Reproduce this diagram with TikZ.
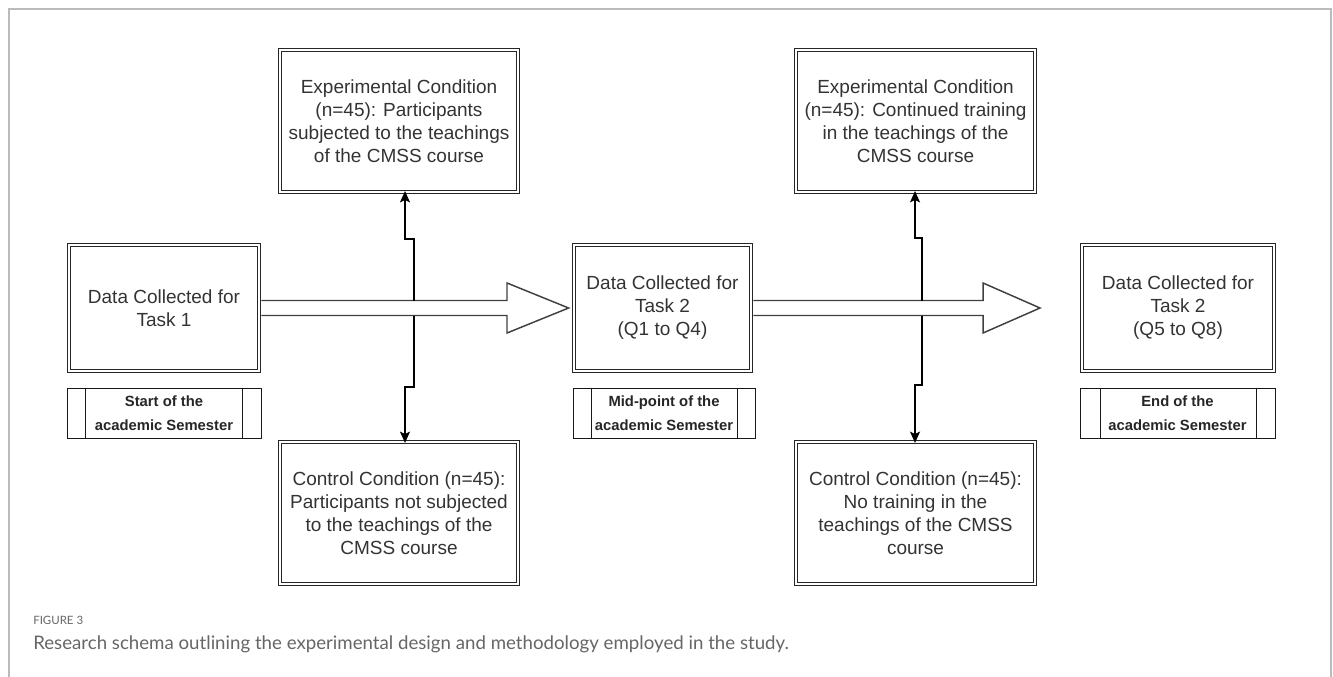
\documentclass[tikz,border=0pt]{standalone}
\usepackage{fontspec}
\setmainfont{Liberation Sans}
\newfontfamily\capfont{Lato}
\usetikzlibrary{arrows.meta,calc}
\definecolor{txt}{HTML}{333333}
\definecolor{capgray}{HTML}{666666}
\definecolor{framegray}{HTML}{BBBBBB}
\begin{document}
\begin{tikzpicture}[x=0.75pt,y=-0.75pt,
  dbox/.style={draw=black!85, line width=0.6pt, double=white, double distance=1.4pt,
    inner sep=0pt, align=center, text=txt, font=\fontsize{14.25pt}{17.25pt}\selectfont},
  lbox/.style={draw=black!90, line width=0.75pt, inner sep=0pt, align=center,
    minimum height=37.5pt, text=black!85, font=\bfseries\fontsize{11.1pt}{18pt}\selectfont},
  bigarrow/.style={draw=black!75, line width=1.1pt, line join=miter},
  conn/.style={draw=black, line width=1pt, -{Stealth[length=8.5pt,width=7.5pt,inset=1.8pt]}},
  framel/.style={draw=framegray, line width=0.8pt}]
\useasboundingbox (0,0) rectangle (1333,677);
\draw[framel] (9,677) -- (9,9) -- (1331,9) -- (1331,677);

% main boxes
\node[dbox, minimum width=142.5pt, minimum height=94.5pt] (d1) at (164,308) {Data Collected for\\Task 1};
\node[dbox, minimum width=132.75pt, minimum height=94.5pt] (d2) at (662.5,308) {Data Collected for\\Task 2\\(Q1 to Q4)};
\node[dbox, minimum width=144pt, minimum height=94.5pt] (d3) at (1178,308) {Data Collected for\\Task 2\\(Q5 to Q8)};

\node[dbox, minimum width=178.5pt, minimum height=106.5pt] (e1) at (399,121) {Experimental Condition\\(n=45): Participants\\subjected to the teachings\\of the CMSS course};
\node[dbox, minimum width=179.25pt, minimum height=106.5pt] (e2) at (915.5,121) {Experimental Condition\\(n=45): Continued training\\in the teachings of the\\CMSS course};
\node[dbox, minimum width=178.5pt, minimum height=106.5pt] (c1) at (399,513) {Control Condition (n=45):\\Participants not subjected\\to the teachings of the\\CMSS course};
\node[dbox, minimum width=179.25pt, minimum height=106.5pt] (c2) at (915.5,513) {Control Condition (n=45):\\No training in the\\teachings of the CMSS\\course};

% label (process) boxes
\node[lbox, minimum width=145.5pt] (l1) at (164,413) {Start of the\\academic Semester};
\node[lbox, minimum width=136.5pt] (l2) at (664,413) {Mid-point of the\\academic Semester};
\node[lbox, minimum width=146.25pt] (l3) at (1177.5,413) {End of the\\academic Semester};
\draw[black!90, line width=0.75pt] ($(l1.north west)+(19,0)$) -- ($(l1.south west)+(19,0)$)
  ($(l1.north east)+(-19,0)$) -- ($(l1.south east)+(-19,0)$);
\draw[black!90, line width=0.75pt] ($(l2.north west)+(19,0)$) -- ($(l2.south west)+(19,0)$)
  ($(l2.north east)+(-18,0)$) -- ($(l2.south east)+(-18,0)$);
\draw[black!90, line width=0.75pt] ($(l3.north west)+(21,0)$) -- ($(l3.south west)+(21,0)$)
  ($(l3.north east)+(-19,0)$) -- ($(l3.south east)+(-19,0)$);

% big hollow arrows
\coordinate (t1) at ($(d2.west)+(-5,0)$);
\draw[bigarrow] ($(d1.east)+(2,-7.5)$) -- (507,300.5) -- (507,283) -- (t1)
  -- (507,333) -- (507,315.5) -- ($(d1.east)+(2,7.5)$);
\coordinate (t2) at (1040,308);
\draw[bigarrow] ($(d2.east)+(2,-7.5)$) -- (983,300.5) -- (983,283) -- (t2)
  -- (983,333) -- (983,315.5) -- ($(d2.east)+(2,7.5)$);

% vertical connectors
\coordinate (a1t) at (414,300.5);
\coordinate (a1b) at (414,315.5);
\coordinate (k1) at (405,239);
\coordinate (k2) at (405,387);
\draw[conn, shorten >=-1pt] (a1t) |- (k1) -- (k1 |- e1.south);
\draw[conn, shorten >=-1pt] (a1b) |- (k2) -- (k2 |- c1.north);

\coordinate (a2t) at (922,300.5);
\coordinate (a2b) at (922,315.5);
\coordinate (k3) at (915,238);
\coordinate (k4) at (915,385);
\draw[conn, shorten >=-1pt] (a2t) |- (k3) -- (k3 |- e2.south);
\draw[conn, shorten >=-1pt] (a2b) |- (k4) -- (k4 |- c2.north);

% caption
\node[anchor=west, inner sep=0pt, text=capgray, font=\capfont\fontsize{8.6pt}{10pt}\selectfont] (fig) at (33,620) {FIGURE 3};
\node[anchor=west, inner sep=0pt, text=capgray, font=\capfont\fontsize{14pt}{16pt}\selectfont] (cap) at (33,644) {Research schema outlining the experimental design and methodology employed in the study.};
\end{tikzpicture}
\end{document}
